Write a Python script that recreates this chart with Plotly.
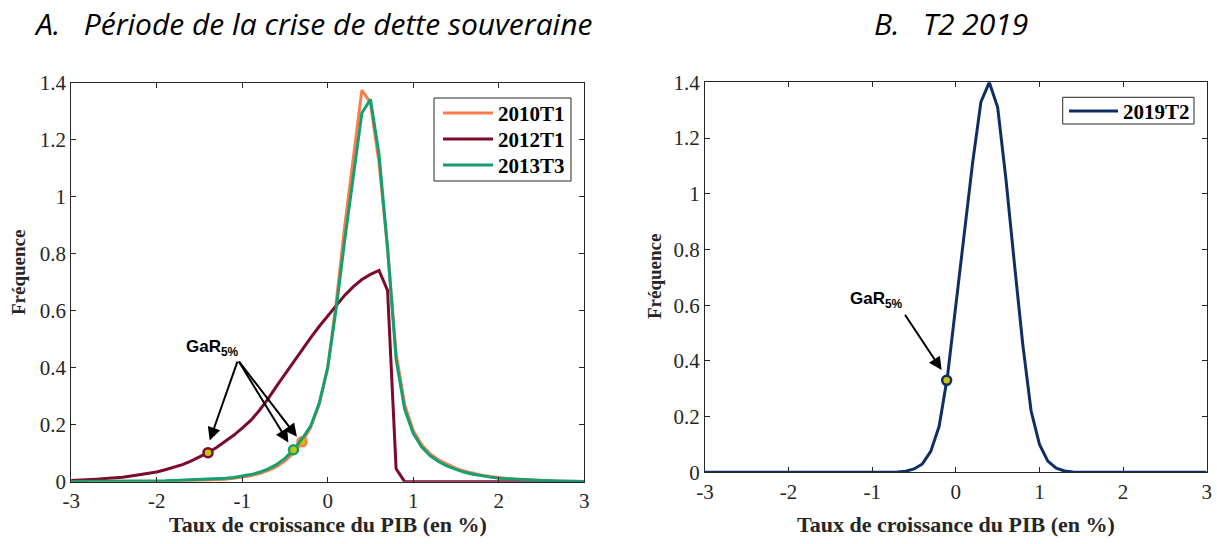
import plotly.graph_objects as go

# ---------------- data ----------------
x_grid = [-3.0, -2.9, -2.8, -2.7, -2.6, -2.5, -2.4, -2.3, -2.2, -2.1,
          -2.0, -1.9, -1.8, -1.7, -1.6, -1.5, -1.4, -1.3, -1.2, -1.1,
          -1.0, -0.9, -0.8, -0.7, -0.6, -0.5, -0.4, -0.3, -0.2, -0.1,
          0.0, 0.1, 0.2, 0.3, 0.4, 0.5, 0.6, 0.7, 0.8, 0.9,
          1.0, 1.1, 1.2, 1.3, 1.4, 1.5, 1.6, 1.7, 1.8, 1.9,
          2.0, 2.1, 2.2, 2.3, 2.4, 2.5, 2.6, 2.7, 2.8, 2.9, 3.0]

y_2010T1 = [0.000, 0.000, 0.000, 0.000, 0.001, 0.001, 0.001, 0.001, 0.001, 0.002,
            0.002, 0.002, 0.003, 0.003, 0.004, 0.005, 0.006, 0.007, 0.009, 0.012,
            0.016, 0.021, 0.029, 0.039, 0.053, 0.073, 0.100, 0.140, 0.190, 0.270,
            0.400, 0.630, 0.900, 1.140, 1.375, 1.330, 1.120, 0.820, 0.450, 0.270,
            0.180, 0.130, 0.097, 0.076, 0.060, 0.047, 0.037, 0.029, 0.023, 0.018,
            0.014, 0.011, 0.009, 0.007, 0.005, 0.004, 0.003, 0.002, 0.002, 0.001, 0.001]

y_2012T1 = [0.004, 0.005, 0.007, 0.009, 0.011, 0.013, 0.016, 0.020, 0.024, 0.029,
            0.034, 0.042, 0.050, 0.060, 0.072, 0.086, 0.102, 0.120, 0.140, 0.163,
            0.188, 0.215, 0.250, 0.290, 0.335, 0.378, 0.420, 0.463, 0.505, 0.545,
            0.582, 0.620, 0.655, 0.685, 0.710, 0.728, 0.742, 0.672, 0.045, 0.000,
            0.000, 0.000, 0.000, 0.000, 0.000, 0.000, 0.000, 0.000, 0.000, 0.000,
            0.000, 0.000, 0.000, 0.000, 0.000, 0.000, 0.000, 0.000, 0.000, 0.000, 0.000]

y_2013T3 = [0.001, 0.001, 0.001, 0.001, 0.001, 0.001, 0.002, 0.002, 0.002, 0.002,
            0.003, 0.003, 0.004, 0.005, 0.006, 0.007, 0.008, 0.010, 0.012, 0.015,
            0.019, 0.025, 0.033, 0.044, 0.060, 0.082, 0.112, 0.150, 0.195, 0.275,
            0.400, 0.610, 0.850, 1.080, 1.295, 1.343, 1.150, 0.820, 0.430, 0.255,
            0.170, 0.122, 0.091, 0.070, 0.055, 0.043, 0.033, 0.026, 0.020, 0.016,
            0.012, 0.010, 0.008, 0.006, 0.005, 0.004, 0.003, 0.002, 0.002, 0.001, 0.001]

y_2019T2 = [0.000, 0.000, 0.000, 0.000, 0.000, 0.000, 0.000, 0.000, 0.000, 0.000,
            0.000, 0.000, 0.000, 0.000, 0.000, 0.000, 0.000, 0.000, 0.000, 0.000,
            0.000, 0.000, 0.000, 0.001, 0.004, 0.012, 0.030, 0.075, 0.165, 0.345,
            0.600, 0.860, 1.110, 1.330, 1.400, 1.310, 1.050, 0.750, 0.460, 0.220,
            0.100, 0.040, 0.015, 0.005, 0.001, 0.000, 0.000, 0.000, 0.000, 0.000,
            0.000, 0.000, 0.000, 0.000, 0.000, 0.000, 0.000, 0.000, 0.000, 0.000, 0.000]

# GaR 5% points (x, y)
gar_2010T1 = (-0.30, 0.140)
gar_2012T1 = (-1.40, 0.102)
gar_2013T3 = (-0.40, 0.112)
gar_2019T2 = (-0.11, 0.330)

x_tickvals = [-3, -2, -1, 0, 1, 2, 3]
x_ticktext = ["-3", "-2", "-1", "0", "1", "2", "3"]
y_tickvals = [0, 0.2, 0.4, 0.6, 0.8, 1.0, 1.2, 1.4]
y_ticktext = ["0", "0.2", "0.4", "0.6", "0.8", "1", "1.2", "1.4"]

series_A = ["2010T1", "2012T1", "2013T3"]
series_B = ["2019T2"]

title_A = "<i>A.   Période de la crise de dette souveraine</i>"
title_B = "<i>B.   T2 2019</i>"
x_title = "Taux de croissance du PIB (en %)"
y_title = "Fréquence"
gar_label = "GaR<sub>5%</sub>"

# ---------------- style ----------------
C_ORANGE = "#FF7A4D"
C_MAROON = "#7D0A2B"
C_GREEN = "#12A06E"
C_NAVY = "#0E2F64"
C_GAR = "#C9C300"
AX = "#262626"
W, H = 1217, 544
SERIF = "Liberation Serif"
SANS = "Liberation Sans"

fig = go.Figure()

def line(xv, yv, name, color, xa, ya):
    fig.add_trace(go.Scatter(x=xv, y=yv, mode="lines", name=name, showlegend=False,
                             line=dict(color=color, width=3), xaxis=xa, yaxis=ya))

def gar(pt, color, xa, ya):
    fig.add_trace(go.Scatter(x=[pt[0]], y=[pt[1]], mode="markers", showlegend=False,
                             marker=dict(color=C_GAR, size=9, line=dict(color=color, width=2.5)),
                             xaxis=xa, yaxis=ya, cliponaxis=False))

line(x_grid, y_2010T1, series_A[0], C_ORANGE, "x", "y")
gar(gar_2010T1, C_ORANGE, "x", "y")
line(x_grid, y_2012T1, series_A[1], C_MAROON, "x", "y")
gar(gar_2012T1, C_MAROON, "x", "y")
line(x_grid, y_2013T3, series_A[2], C_GREEN, "x", "y")
gar(gar_2013T3, C_GREEN, "x", "y")
line(x_grid, y_2019T2, series_B[0], C_NAVY, "x2", "y2")
gar(gar_2019T2, C_NAVY, "x2", "y2")

def axis_common():
    return dict(showline=True, linecolor=AX, linewidth=1, mirror="ticks",
                ticks="inside", ticklen=5, tickcolor=AX, tickwidth=1,
                showgrid=False, zeroline=False, automargin=False,
                tickfont=dict(family=SERIF, size=21, color=AX))

xa1 = axis_common(); xa1.update(domain=[71.2 / W, 584.2 / W], range=[-3, 3], anchor="y",
                                tickvals=x_tickvals, ticktext=x_ticktext)
ya1 = axis_common(); ya1.update(domain=[1 - 481.7 / H, 1 - 83 / H], range=[0, 1.4], anchor="x",
                                tickvals=y_tickvals, ticktext=y_ticktext)
xa2 = axis_common(); xa2.update(domain=[705 / W, 1206.7 / W], range=[-3, 3], anchor="y2",
                                tickvals=x_tickvals, ticktext=x_ticktext)
ya2 = axis_common(); ya2.update(domain=[1 - 472.3 / H, 1 - 82.3 / H], range=[0, 1.4], anchor="x2",
                                tickvals=y_tickvals, ticktext=y_ticktext)

fig.update_layout(
    width=W, height=H,
    margin=dict(l=0, r=0, t=0, b=0),
    paper_bgcolor="white", plot_bgcolor="white",
    xaxis=xa1, yaxis=ya1, xaxis2=xa2, yaxis2=ya2,
    showlegend=False,
)

ann = []
shapes = []

def paper_text(text, cx, cy, font, angle=0, xanchor="center"):
    ann.append(dict(text=text, x=cx / W, y=1 - cy / H, xref="paper", yref="paper",
                    xanchor=xanchor, yanchor="middle", textangle=angle,
                    showarrow=False, font=font))

# panel titles
paper_text(title_A, 313, 24, dict(family="Open Sans", size=30, color="black"))
paper_text(title_B, 951, 24, dict(family="Open Sans", size=30, color="black"))
# axis titles
for cx, cy in [(327.7, 524.5), (956, 524)]:
    paper_text(x_title, cx, cy, dict(family=SERIF, size=22, color=AX, weight="bold"))
for cx, cy in [(18, 273), (654, 277)]:
    paper_text(y_title, cx, cy, dict(family=SERIF, size=19, color=AX, weight="bold"), -90)

# manual legends (box, line samples, labels)
def legend_box(x0, y0, x1, y1, names, colors, row_y, line_x0, line_x1, text_x):
    shapes.append(dict(type="rect", xref="paper", yref="paper",
                       x0=x0 / W, x1=x1 / W, y0=1 - y1 / H, y1=1 - y0 / H,
                       line=dict(color=AX, width=1), fillcolor="white", layer="above"))
    for nm, col, ry in zip(names, colors, row_y):
        shapes.append(dict(type="line", xref="paper", yref="paper",
                           x0=line_x0 / W, x1=line_x1 / W, y0=1 - ry / H, y1=1 - ry / H,
                           line=dict(color=col, width=3), layer="above"))
        paper_text(nm, text_x, ry + 1, dict(family=SERIF, size=21, color="black", weight="bold"),
                   xanchor="left")

legend_box(434, 98, 571, 181, series_A, [C_ORANGE, C_MAROON, C_GREEN],
           [113, 139, 165], 443, 493, 496)
legend_box(1062.7, 97.3, 1194, 124, series_B, [C_NAVY], [111], 1069, 1118, 1121)

# GaR labels and arrows - panel A
ann.append(dict(text=gar_label, x=-1.35, y=0.47, xref="x", yref="y", showarrow=False,
                xanchor="center", yanchor="middle",
                font=dict(family=SANS, size=17, color="black", weight="bold")))
tailA = (-1.05, 0.427)
for tip in [(-1.38, 0.145), (-0.46, 0.138), (-0.36, 0.158)]:
    ann.append(dict(text="", x=tip[0], y=tip[1], xref="x", yref="y",
                    ax=tailA[0], ay=tailA[1], axref="x", ayref="y",
                    showarrow=True, arrowhead=2, arrowsize=1.3, arrowwidth=2, arrowcolor="black"))
# panel B
ann.append(dict(text=gar_label, x=-0.95, y=0.62, xref="x2", yref="y2", showarrow=False,
                xanchor="center", yanchor="middle",
                font=dict(family=SANS, size=17, color="black", weight="bold")))
ann.append(dict(text="", x=-0.17, y=0.367, xref="x2", yref="y2",
                ax=-0.62, ay=0.571, axref="x2", ayref="y2",
                showarrow=True, arrowhead=2, arrowsize=1.3, arrowwidth=2, arrowcolor="black"))

fig.update_layout(annotations=ann, shapes=shapes)
fig.write_html("out.html", config={"displayModeBar": False},
               post_script="document.body.style.margin='0';document.body.style.overflow='hidden';")
